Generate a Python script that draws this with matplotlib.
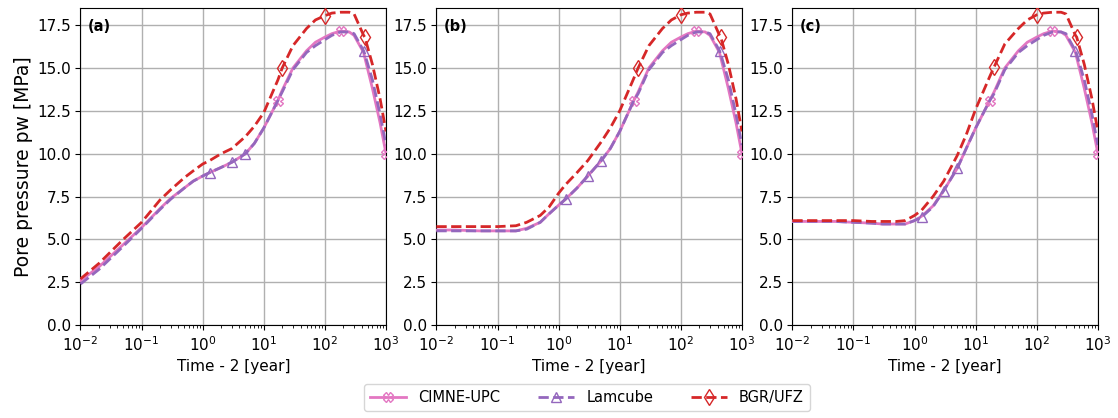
import matplotlib
matplotlib.use("Agg")
import matplotlib.pyplot as plt

# time after t=2 years (log axis)
t = [0.01, 0.02, 0.05, 0.1, 0.2, 0.3, 0.5, 0.7, 1, 1.3, 2, 3, 5, 7, 10,
     17, 20, 30, 50, 70, 100, 130, 180, 250, 300, 430, 450, 600, 800, 1000]

# marker times for each team
mark_cimne = [17, 180, 1000]
mark_lam = [1.3, 3, 5, 430]
mark_bgr = [20, 100, 450]

# panel (a)
cimne_a = [2.6, 3.4, 4.7, 5.7, 6.8, 7.4, 8.0, 8.4, 8.7, 8.9, 9.2, 9.5, 10.0, 10.6, 11.5,
           13.1, 13.7, 15.0, 16.0, 16.5, 16.8, 17.0, 17.15, 17.1, 16.9, 15.9, 15.6, 13.8, 11.8, 10.0]
lam_a = [2.4, 3.25, 4.6, 5.65, 6.75, 7.35, 8.0, 8.4, 8.7, 8.9, 9.2, 9.5, 10.0, 10.6, 11.5,
         13.1, 13.6, 14.9, 15.9, 16.3, 16.65, 16.9, 17.1, 17.1, 17.0, 16.0, 15.8, 14.3, 12.3, 10.5]
bgr_a = [2.7, 3.6, 5.0, 6.0, 7.3, 7.9, 8.6, 9.0, 9.4, 9.6, 10.0, 10.3, 11.0, 11.6, 12.4,
         14.3, 15.0, 16.3, 17.3, 17.8, 18.05, 18.2, 18.25, 18.25, 18.15, 16.9, 16.8, 15.2, 13.2, 11.3]

# panel (b)
cimne_b = [5.55, 5.55, 5.5, 5.5, 5.5, 5.65, 6.0, 6.5, 7.0, 7.35, 8.0, 8.7, 9.6, 10.3, 11.3,
           13.1, 13.6, 15.0, 16.0, 16.5, 16.8, 17.0, 17.15, 17.1, 16.9, 15.9, 15.6, 13.8, 11.8, 10.0]
lam_b = [5.5, 5.5, 5.5, 5.5, 5.5, 5.6, 6.0, 6.5, 7.0, 7.35, 8.0, 8.7, 9.6, 10.3, 11.3,
         13.1, 13.5, 14.9, 15.9, 16.3, 16.65, 16.9, 17.1, 17.1, 17.0, 16.0, 15.8, 14.3, 12.3, 10.5]
bgr_b = [5.75, 5.75, 5.75, 5.75, 5.8, 6.0, 6.4, 6.9, 7.7, 8.2, 8.9, 9.6, 10.7, 11.5, 12.5,
         14.4, 15.0, 16.3, 17.3, 17.8, 18.1, 18.2, 18.25, 18.25, 18.15, 16.9, 16.8, 15.2, 13.2, 11.3]

# panel (c)
cimne_c = [6.05, 6.05, 6.05, 6.0, 5.95, 5.9, 5.9, 5.9, 6.1, 6.35, 6.95, 7.85, 9.15, 10.3, 11.5,
           13.1, 13.6, 15.0, 16.0, 16.5, 16.8, 17.0, 17.15, 17.1, 16.9, 15.9, 15.6, 13.8, 11.8, 10.0]
lam_c = [6.05, 6.05, 6.05, 6.0, 5.95, 5.9, 5.9, 5.9, 6.1, 6.3, 6.9, 7.85, 9.15, 10.3, 11.5,
         13.1, 13.5, 14.9, 15.9, 16.3, 16.65, 16.9, 17.1, 17.1, 17.0, 16.0, 15.8, 14.3, 12.3, 10.5]
bgr_c = [6.1, 6.1, 6.1, 6.1, 6.05, 6.05, 6.05, 6.1, 6.4, 6.7, 7.5, 8.4, 9.9, 11.1, 12.6,
         14.5, 15.05, 16.4, 17.3, 17.8, 18.1, 18.2, 18.25, 18.25, 18.15, 16.9, 16.8, 15.2, 13.2, 11.3]

panels = ["(a)", "(b)", "(c)"]
data = [(cimne_a, lam_a, bgr_a), (cimne_b, lam_b, bgr_b), (cimne_c, lam_c, bgr_c)]

def idx(marks):
    return [t.index(m) for m in marks]

plt.rcParams["xtick.labelsize"] = 11
plt.rcParams["ytick.labelsize"] = 11

fig, axes = plt.subplots(1, 3, figsize=(11.18, 4.18), dpi=100)
fig.subplots_adjust(left=0.072, right=0.982, top=0.981, bottom=0.222, wspace=0.165)

for ax, label, (c, l, b) in zip(axes, panels, data):
    ax.plot(t, c, color="#e377c2", lw=2, ls="-", marker="X", ms=7, mfc="none",
            mew=1, markevery=idx(mark_cimne), label="CIMNE-UPC", zorder=3)
    ax.plot(t, l, color="#9467bd", lw=2, ls="--", marker="^", ms=7, mfc="none",
            mew=1, markevery=idx(mark_lam), label="Lamcube", zorder=3)
    ax.plot(t, b, color="#d62728", lw=2, ls="--", marker="d", ms=8, mfc="none",
            mew=1, markevery=idx(mark_bgr), label="BGR/UFZ", zorder=3)
    ax.set_xscale("log")
    ax.set_xlim(1e-2, 1e3)
    ax.set_ylim(0, 18.5)
    ax.set_yticks([0, 2.5, 5, 7.5, 10, 12.5, 15, 17.5])
    ax.grid(True, color="#b0b0b0", lw=1)
    ax.set_axisbelow(True)
    ax.set_xlabel("Time - 2 [year]", fontsize=11)
    ax.text(0.023, 0.943, label, transform=ax.transAxes, fontweight="bold",
            ha="left", va="center", fontsize=10.5)

axes[0].set_ylabel("Pore pressure pw [MPa]", fontsize=13.5, labelpad=3)

handles, labels = axes[0].get_legend_handles_labels()
fig.legend(handles, labels, loc="lower center", ncol=3, bbox_to_anchor=(0.525, 0.0),
           fontsize=10.5, columnspacing=2.6, handlelength=2.5)

fig.savefig("out.png", dpi=100)
